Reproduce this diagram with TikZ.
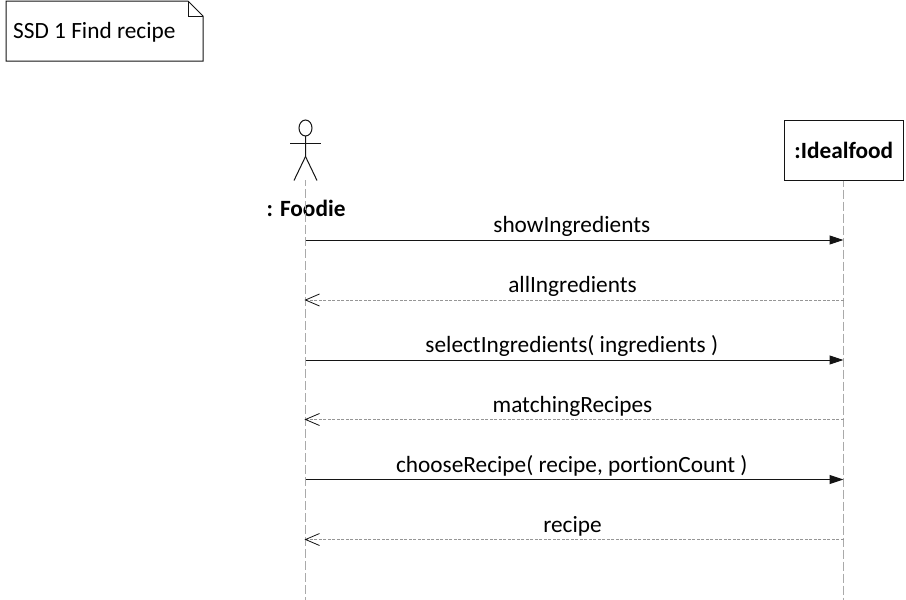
\documentclass[tikz,border=0pt]{standalone}
\usepackage{fontspec}
\setmainfont[RawFeature={-liga;-clig}]{Carlito}
\usetikzlibrary{arrows.meta}
\definecolor{lineblack}{RGB}{20,20,20}
\definecolor{lifegray}{RGB}{170,170,170}
\definecolor{replygray}{RGB}{150,150,150}
\tikzset{
  x=1pt,y=-1pt,
  every node/.style={font=\fontsize{23.3}{27}\selectfont,text=black,inner sep=0pt},
  notebox/.style={draw=lineblack,line width=1pt},
  lifebox/.style={draw=lineblack,line width=1pt,minimum width=119.5pt,minimum height=60pt,font=\fontsize{23.3}{27}\selectfont\bfseries},
  lifeline/.style={draw=lifegray,line width=1pt,dash pattern=on 9pt off 3pt,dash phase=3pt},
  callmsg/.style={draw=lineblack,line width=1pt,-{Triangle[length=14pt,width=9pt]}},
  replymsg/.style={draw=replygray,line width=1pt,dash pattern=on 3pt off 1.5pt},
  replyhead/.style={draw=lineblack,line width=0.8pt},
  stick/.style={draw=lineblack,line width=1pt},
  calllabel/.style={anchor=base,pos=0.495,yshift=8pt},
  replylabel/.style={anchor=base,pos=0.5037,yshift=8pt},
  lowlabel/.style={yshift=-1pt}
}
\begin{document}
\begin{tikzpicture}
\useasboundingbox (0,0) rectangle (906,600);
% note
\draw[notebox] (6,61) -- (6,1) -- (188,1) -- (203,16) -- (203,61) -- cycle;
\draw[notebox] (188,1) -- (188,16) -- (203,16);
\node[anchor=base west] (note) at (13,38) {SSD 1 Find recipe};
% participants
\node[lifebox] (ideal) at (843.75,150) {:Idealfood};
\coordinate (actorfoot) at (305.5,180);
\node[anchor=base] (foodie) at (306,216) {\bfseries : Foodie};
% lifelines
\coordinate (footA) at (305.5,600);
\coordinate (footB) at (843.75,600);
\draw[lifeline] (actorfoot) -- (footA);
\draw[lifeline] (ideal.south) -- (footB);
% actor
\draw[stick] (305.5,128) circle [x radius=6.5, y radius=8];
\coordinate (headbottom) at (305.5,136);
\draw[stick] (headbottom) -- (305.5,156.5) -- (294,180.5);
\draw[stick] (305.5,156.5) -- (317,180.5);
\draw[stick] (290,143) -- (320.5,143);
% message anchors
\foreach \n/\y in {1/240,2/300,3/360,4/419.5,5/479.5,6/539.5}{
  \coordinate (a\n) at (305.5,\y);
  \coordinate (b\n) at (843.5,\y);
}
% messages
\draw[callmsg] (a1) -- (b1) node[calllabel] {showIngredients};
\draw[replymsg] (b2) -- (a2) node[replylabel] {allIngredients};
\draw[callmsg] (a3) -- (b3) node[calllabel] {selectIngredients( ingredients )};
\draw[replymsg] (b4) -- (a4) node[replylabel,lowlabel] {matchingRecipes};
\draw[callmsg] (a5) -- (b5) node[calllabel,lowlabel] {chooseRecipe( recipe, portionCount )};
\draw[replymsg] (b6) -- (a6) node[replylabel,lowlabel] {recipe};
\foreach \n in {2,4,6}{
  \draw[replyhead] ([shift={(14,-6)}]a\n) -- (a\n) -- ([shift={(14,6)}]a\n);
}
\end{tikzpicture}
\end{document}
